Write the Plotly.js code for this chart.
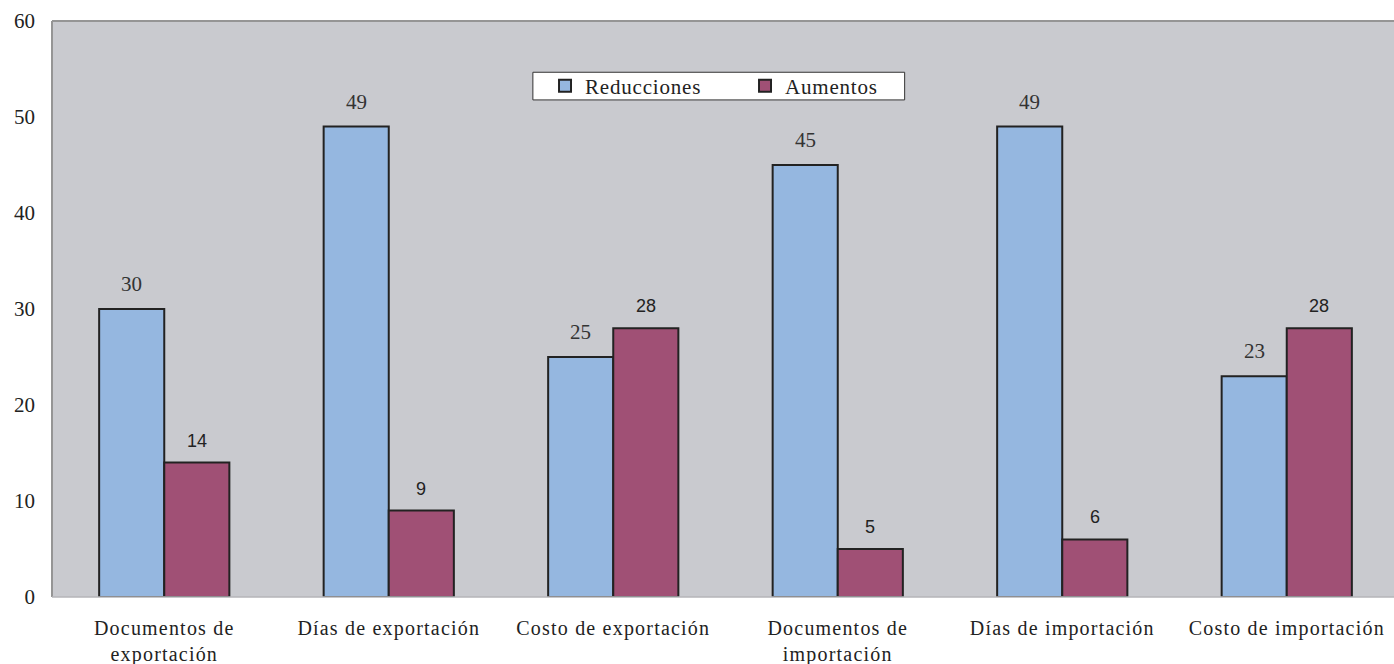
<!DOCTYPE html>
<html>
<head>
<meta charset="utf-8">
<script src="https://cdn.plot.ly/plotly-3.0.1.min.js"></script>
<style>html,body{margin:0;padding:0;background:#fff;overflow:hidden;width:1394px;height:664px}
#chart .xtick text{letter-spacing:1.2px}
#chart .legendtext{letter-spacing:0.8px}</style>
</head>
<body>
<div id="chart" style="width:1400px;height:664px"></div>
<script>
const categories = ["Documentos de<br>exportación", "Días de exportación", "Costo de exportación", "Documentos de<br>importación", "Días de importación", "Costo de importación"];
const reducciones = [30, 49, 25, 45, 49, 23];
const aumentos = [14, 9, 28, 5, 6, 28];
const seriesNames = ["Reducciones", "Aumentos"];
const yTicks = [0, 10, 20, 30, 40, 50, 60];

const serif = "Liberation Serif";
const sans = "Liberation Sans";

const traces = [
  {type: "bar", name: seriesNames[0], x: categories, y: reducciones,
   marker: {color: "#95b7e0", line: {color: "#222222", width: 2}}, hoverinfo: "none"},
  {type: "bar", name: seriesNames[1], x: categories, y: aumentos,
   marker: {color: "#a05075", line: {color: "#222222", width: 2}}, hoverinfo: "none"}
];

const barOffset = 0.145;
const annotations = [];
reducciones.forEach((v, i) => annotations.push({
  x: i - barOffset, y: v, xref: "x", yref: "y", text: String(v), showarrow: false,
  yanchor: "bottom", yshift: 11, font: {family: serif, size: 21, color: "#333333"}
}));
aumentos.forEach((v, i) => annotations.push({
  x: i + barOffset, y: v, xref: "x", yref: "y", text: String(v), showarrow: false,
  yanchor: "bottom", yshift: 10, font: {family: sans, size: 18, color: "#222222"}
}));

const layout = {
  width: 1400, height: 664,
  margin: {l: 52, r: 1, t: 21, b: 67},
  paper_bgcolor: "#ffffff",
  plot_bgcolor: "#c9cacf",
  barmode: "group",
  bargap: 0.42,
  bargroupgap: 0,
  showlegend: true,
  legend: {
    orientation: "h", x: 0.5145, xanchor: "center", y: 0.887, yanchor: "middle",
    bgcolor: "rgba(0,0,0,0)", borderwidth: 0,
    font: {family: serif, size: 21, color: "#222222"},
    itemwidth: 30, entrywidth: 155, entrywidthmode: "pixels", tracegroupgap: 0
  },
  xaxis: {
    type: "category", showgrid: false, zeroline: false, showline: false,
    ticks: "", ticklabelstandoff: 17,
    tickfont: {family: serif, size: 20, color: "#222222"}
  },
  yaxis: {
    range: [0, 60], tickvals: yTicks, showgrid: false, zeroline: false, showline: false,
    ticks: "", ticklabelstandoff: 16,
    tickfont: {family: serif, size: 21, color: "#222222"}
  },
  shapes: [
    {type: "line", xref: "paper", yref: "paper", x0: 0, x1: 1, y0: 1, y1: 1, line: {color: "#959595", width: 2}},
    {type: "line", xref: "paper", yref: "paper", x0: 0, x1: 0, y0: 0, y1: 1, line: {color: "#959595", width: 2}},
    {type: "line", xref: "paper", yref: "paper", x0: 0, x1: 1, y0: 0, y1: 0, line: {color: "#b5b5b8", width: 1.5}},
    {type: "rect", xref: "paper", yref: "paper", x0: 0.357, x1: 0.633, y0: 0.863, y1: 0.911,
     fillcolor: "#ffffff", line: {color: "#333333", width: 1}, layer: "above"}
  ],
  annotations: annotations
};

Plotly.newPlot("chart", traces, layout, {displayModeBar: false, staticPlot: true});
</script>
</body>
</html>
